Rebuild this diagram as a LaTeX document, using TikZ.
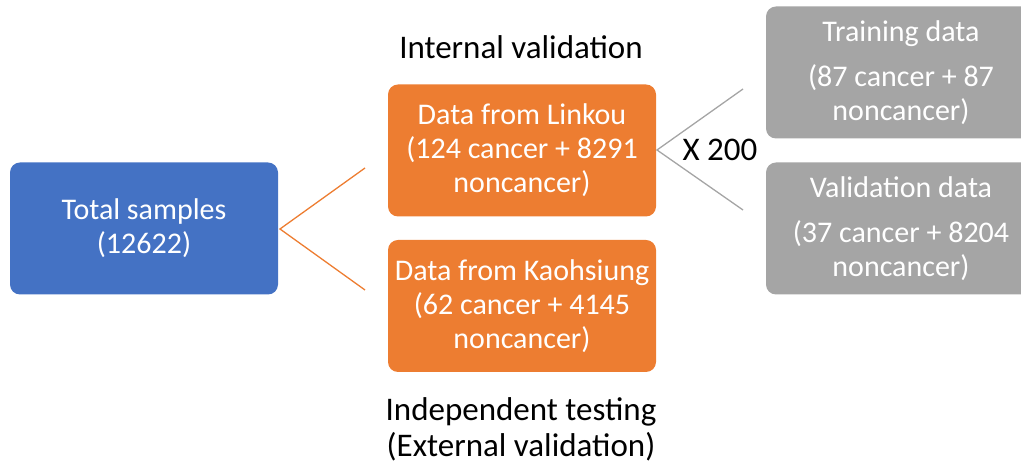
\documentclass[tikz,border=0pt]{standalone}
\usepackage{fontspec}
\setmainfont{Carlito}
\definecolor{cblue}{HTML}{4472C4}
\definecolor{corange}{HTML}{ED7D31}
\definecolor{cgray}{HTML}{A5A5A5}
\tikzset{
  box/.style={rounded corners=10pt, minimum width=268pt, minimum height=132pt, inner sep=0pt,
    text=white, align=center, font=\fontsize{30}{34}\selectfont},
  bluebox/.style={box, fill=cblue},
  orangebox/.style={box, fill=corange},
  graybox/.style={box, fill=cgray},
  lbl/.style={align=center, font=\fontsize{33}{36}\selectfont, text=black},
  oline/.style={draw=corange, line width=1.3pt},
  gline/.style={draw=cgray, line width=1.3pt},
}
\begin{document}
\begin{tikzpicture}[x=1pt,y=1pt]
\useasboundingbox (0,0) rectangle (1021,468);
\begin{scope}
\clip (0,0) rectangle (1021,468);
\node[bluebox] (total) at (144,239.5) {Total samples\\(12622)};
\node[orangebox] (linkou) at (522,317.5) {Data from Linkou\\(124 cancer + 8291\\noncancer)};
\node[orangebox] (kaoh) at (522,162) {Data from Kaohsiung\\(62 cancer + 4145\\noncancer)};
\node[graybox, minimum width=270pt] (train) at (901,395.5) {Training data\\[11pt](87 cancer + 87\\noncancer)};
\node[graybox, minimum width=270pt] (valid) at (901,239.5) {Validation data\\[11pt](37 cancer + 8204\\noncancer)};
\end{scope}
\coordinate (j1) at (280,239);
\coordinate (a1) at (365,300);
\coordinate (a2) at (365,178);
\draw[oline] (a1) -- (j1) -- (a2);
\coordinate (j2) at (657,318);
\coordinate (b1) at (743,379);
\coordinate (b2) at (743,258);
\draw[gline] (b1) -- (j2) -- (b2);
\node[lbl] (iv) at (521,421) {Internal validation};
\node[lbl] (x200) at (720,318) {X 200};
\node[lbl] (it) at (521,39) {Independent testing\\(External validation)};
\end{tikzpicture}
\end{document}
